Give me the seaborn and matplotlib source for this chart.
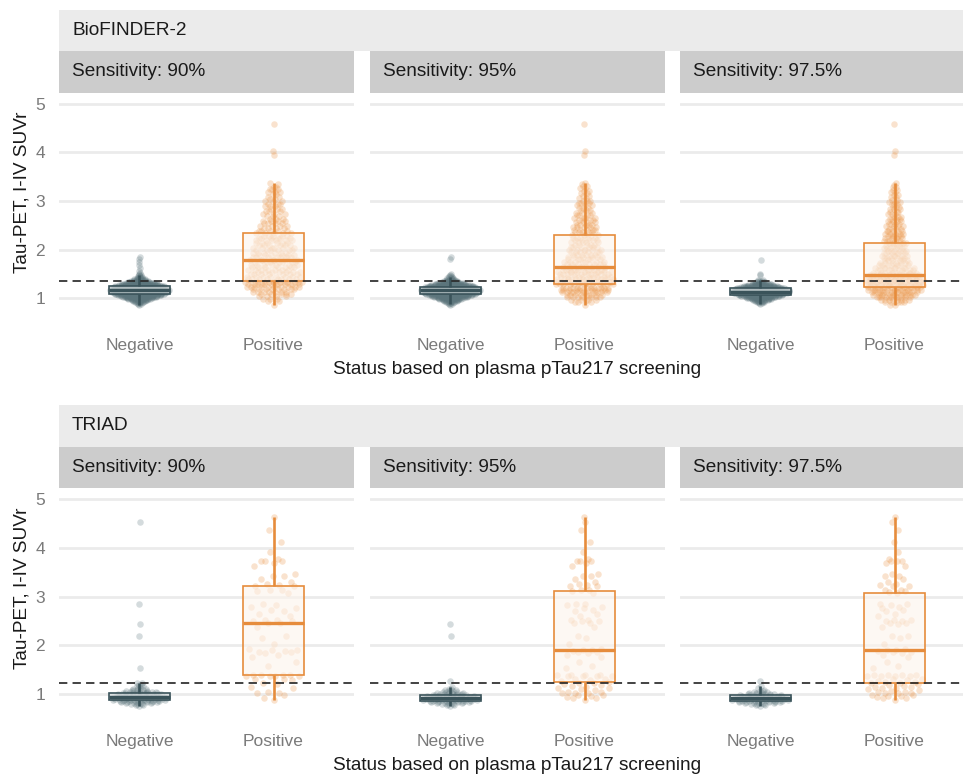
import numpy as np
import pandas as pd
import matplotlib
matplotlib.use("Agg")
import matplotlib.pyplot as plt
from matplotlib.patches import Rectangle
import seaborn as sns

# ---------------------------------------------------------------- data
cohorts = ["BioFINDER-2", "TRIAD"]
sensitivities = ["90%", "95%", "97.5%"]
status_levels = ["Negative", "Positive"]
y_ticks = [1, 2, 3, 4, 5]
tau_threshold = {"BioFINDER-2": 1.36, "TRIAD": 1.23}

# BioFINDER-2: tau-PET SUVr values (binned) and number of participants per value
bf_neg90_vals = [0.87, 0.89, 0.91, 0.93, 0.95, 0.97, 0.99, 1.01, 1.03, 1.05, 1.07, 1.09, 1.11,
                 1.13, 1.15, 1.17, 1.19, 1.21, 1.23, 1.25, 1.27, 1.29, 1.31, 1.33, 1.35, 1.37,
                 1.39, 1.41, 1.43, 1.45, 1.47, 1.49, 1.53, 1.57, 1.62, 1.68, 1.75, 1.80, 1.85]
bf_neg90_n = [1, 2, 3, 5, 7, 9, 12, 15, 18, 21, 24, 27, 29, 31, 32, 32, 32, 31, 29, 27, 24, 20,
              16, 12, 9, 7, 5, 4, 3, 2, 2, 1, 1, 1, 1, 1, 1, 1, 1]

bf_neg95_vals = [0.87, 0.89, 0.91, 0.93, 0.95, 0.97, 0.99, 1.01, 1.03, 1.05, 1.07, 1.09, 1.11,
                 1.13, 1.15, 1.17, 1.19, 1.21, 1.23, 1.25, 1.27, 1.29, 1.31, 1.33, 1.35, 1.37,
                 1.39, 1.41, 1.43, 1.45, 1.47, 1.49, 1.80, 1.85]
bf_neg95_n = [1, 2, 3, 5, 7, 9, 12, 14, 17, 20, 23, 26, 28, 30, 31, 31, 30, 29, 27, 24, 21, 17,
              13, 10, 7, 5, 4, 3, 2, 2, 1, 1, 1, 1]

bf_neg975_vals = [0.88, 0.90, 0.92, 0.94, 0.96, 0.98, 1.00, 1.02, 1.04, 1.06, 1.08, 1.10, 1.12,
                  1.14, 1.16, 1.18, 1.20, 1.22, 1.24, 1.26, 1.28, 1.30, 1.32, 1.34, 1.36, 1.37,
                  1.48, 1.49, 1.78]
bf_neg975_n = [1, 2, 4, 6, 8, 10, 13, 16, 19, 22, 25, 27, 29, 30, 30, 29, 27, 24, 21, 17, 13, 10,
               7, 5, 3, 2, 1, 1, 1]

bf_pos90_vals = [0.87, 0.94, 0.99, 1.04, 1.09, 1.14, 1.19, 1.24, 1.29, 1.34, 1.39, 1.44, 1.49,
                 1.54, 1.59, 1.64, 1.69, 1.74, 1.79, 1.84, 1.89, 1.94, 1.99, 2.04, 2.09, 2.14,
                 2.19, 2.24, 2.29, 2.34, 2.39, 2.44, 2.49, 2.54, 2.59, 2.64, 2.69, 2.74, 2.79,
                 2.84, 2.89, 2.94, 2.99, 3.04, 3.09, 3.14, 3.19, 3.24, 3.29, 3.34, 3.38, 3.95,
                 4.02, 4.59]
bf_pos90_n = [1, 2, 3, 4, 5, 7, 8, 10, 12, 13, 8, 8, 7, 7, 7, 7, 7, 7, 7, 7, 6, 6, 6, 6, 6, 6,
              6, 6, 5, 5, 5, 4, 4, 4, 4, 3, 3, 3, 3, 3, 3, 3, 3, 2, 2, 2, 3, 3, 2, 1, 1, 1, 1, 1]

bf_pos95_vals = [0.87, 0.92, 0.97, 1.02, 1.07, 1.12, 1.17, 1.22, 1.29, 1.34, 1.39, 1.44, 1.49,
                 1.54, 1.59, 1.65, 1.70, 1.75, 1.80, 1.85, 1.90, 1.95, 2.00, 2.05, 2.10, 2.15,
                 2.20, 2.25, 2.31, 2.36, 2.41, 2.46, 2.51, 2.56, 2.61, 2.66, 2.71, 2.76, 2.81,
                 2.86, 2.91, 2.96, 3.01, 3.06, 3.11, 3.16, 3.21, 3.26, 3.31, 3.34, 3.38, 3.95,
                 4.02, 4.59]
bf_pos95_n = [1, 3, 5, 7, 9, 11, 12, 13, 14, 13, 12, 11, 10, 10, 10, 9, 7, 7, 6, 6, 6, 6, 6, 6,
              5, 5, 5, 5, 5, 5, 5, 5, 5, 4, 4, 4, 4, 3, 3, 3, 3, 3, 3, 2, 2, 2, 2, 2, 2, 1, 1, 1,
              1, 1]

bf_pos975_vals = [0.87, 0.92, 0.97, 1.02, 1.07, 1.12, 1.17, 1.23, 1.28, 1.33, 1.38, 1.43, 1.48,
                  1.53, 1.58, 1.63, 1.68, 1.73, 1.78, 1.83, 1.88, 1.93, 1.98, 2.03, 2.08, 2.13,
                  2.18, 2.23, 2.28, 2.33, 2.38, 2.43, 2.48, 2.53, 2.58, 2.63, 2.68, 2.73, 2.78,
                  2.83, 2.88, 2.93, 2.98, 3.03, 3.08, 3.13, 3.18, 3.23, 3.28, 3.33, 3.38, 3.95,
                  4.02, 4.59]
bf_pos975_n = [2, 5, 8, 11, 13, 15, 15, 16, 18, 18, 17, 16, 16, 9, 8, 8, 7, 7, 6, 6, 6, 6, 6, 5,
               5, 6, 5, 5, 5, 5, 5, 4, 4, 4, 4, 4, 3, 3, 3, 3, 3, 3, 3, 2, 2, 2, 2, 2, 2, 1, 1, 1,
               1, 1]

# TRIAD: negatives (binned values and counts)
tr_neg90_vals = [0.76, 0.78, 0.80, 0.82, 0.84, 0.86, 0.88, 0.90, 0.92, 0.94, 0.96, 0.98, 1.00,
                 1.02, 1.04, 1.06, 1.08, 1.10, 1.13, 1.16, 1.19, 1.23, 1.54, 2.20, 2.44, 2.84,
                 4.53]
tr_neg90_n = [1, 2, 3, 4, 6, 8, 9, 9, 9, 9, 8, 8, 7, 7, 5, 4, 3, 2, 2, 2, 2, 2, 1, 1, 1, 1, 1]

tr_neg95_vals = [0.76, 0.78, 0.80, 0.82, 0.84, 0.86, 0.88, 0.90, 0.92, 0.94, 0.96, 0.98, 1.00,
                 1.02, 1.04, 1.06, 1.08, 1.11, 1.15, 1.28, 2.20, 2.44]
tr_neg95_n = [1, 2, 3, 4, 6, 8, 9, 9, 9, 8, 7, 6, 5, 4, 3, 2, 2, 2, 1, 1, 1, 1]

tr_neg975_vals = [0.76, 0.78, 0.80, 0.82, 0.84, 0.86, 0.88, 0.90, 0.92, 0.94, 0.96, 0.98, 1.00,
                  1.02, 1.04, 1.06, 1.09, 1.12, 1.16, 1.28]
tr_neg975_n = [1, 2, 3, 4, 6, 8, 8, 8, 8, 6, 6, 6, 5, 3, 2, 2, 1, 1, 1, 1]

# TRIAD: positives (individual participants)
tr_pos90 = [4.63, 4.37, 4.11, 3.92, 3.78, 3.73, 3.73, 3.72, 3.69, 3.62, 3.47, 3.43, 3.42, 3.37,
            3.29, 3.25, 3.23, 3.22, 3.21, 3.14, 3.13, 3.12, 3.07, 2.84, 2.82, 2.79, 2.77, 2.72,
            2.70, 2.64, 2.60, 2.53, 2.52, 2.51, 2.50, 2.47, 2.45, 2.38, 2.20, 2.15, 2.03, 1.92,
            1.91, 1.90, 1.88, 1.87, 1.86, 1.85, 1.81, 1.77, 1.67, 1.57, 1.40, 1.39, 1.39, 1.39,
            1.38, 1.38, 1.37, 1.37, 1.32, 1.31, 1.30, 1.23, 1.22, 1.14, 1.13, 1.04, 1.03, 1.02,
            0.99, 0.93, 0.89]
# participants that become screen-positive at the higher sensitivities
tr_added95 = [4.53, 2.84, 1.54, 1.28, 1.25, 1.24, 1.20, 1.18, 1.12, 1.10, 1.08, 1.05, 1.02,
              0.98, 0.96, 0.94, 0.92]
tr_added975 = [3.10, 2.44, 2.20, 1.25, 1.15, 1.06, 0.97]
tr_pos95 = tr_pos90 + tr_added95
tr_pos975 = tr_pos95 + tr_added975

one = [1] * 200
panel_data = {
    ("BioFINDER-2", "90%"): ((bf_neg90_vals, bf_neg90_n), (bf_pos90_vals, bf_pos90_n)),
    ("BioFINDER-2", "95%"): ((bf_neg95_vals, bf_neg95_n), (bf_pos95_vals, bf_pos95_n)),
    ("BioFINDER-2", "97.5%"): ((bf_neg975_vals, bf_neg975_n), (bf_pos975_vals, bf_pos975_n)),
    ("TRIAD", "90%"): ((tr_neg90_vals, tr_neg90_n), (tr_pos90, one[:len(tr_pos90)])),
    ("TRIAD", "95%"): ((tr_neg95_vals, tr_neg95_n), (tr_pos95, one[:len(tr_pos95)])),
    ("TRIAD", "97.5%"): ((tr_neg975_vals, tr_neg975_n), (tr_pos975, one[:len(tr_pos975)])),
}

# ---------------------------------------------------------------- style
status_colors = {"Negative": "#3A535A", "Positive": "#E68C3C"}
point_colors = {"Negative": "#5C757C", "Positive": "#EC9A50"}
point_alpha = {"Negative": 0.26, "Positive": 0.28}
strip_outer = "#EBEBEB"
strip_inner = "#CCCCCC"
grid_color = "#EBEBEB"
tick_color = "#7A7A7A"
text_color = "#1A1A1A"

sns.set_theme(style="white")
plt.rcParams["font.family"] = ["Liberation Sans", "DejaVu Sans"]

W, H = 963, 775
fig = plt.figure(figsize=(W / 100, H / 100), dpi=100)


def px_box(x0, y0, x1, y1):
    """Pixel box (top-left origin) -> figure fraction [left, bottom, width, height]."""
    return [x0 / W, 1 - y1 / H, (x1 - x0) / W, (y1 - y0) / H]


def van_der_corput(n, base=2):
    seq = np.empty(n)
    for i in range(n):
        k, f, r = i + 1, 1.0, 0.0
        while k > 0:
            f /= base
            r += f * (k % base)
            k //= base
        seq[i] = r
    return seq


def quasirandom_offsets(y, half_width=0.22):
    """Density-scaled low-discrepancy horizontal offsets (quasirandom layout)."""
    y = np.asarray(y, float)
    n = len(y)
    sd = y.std(ddof=1)
    q75, q25 = np.percentile(y, [75, 25])
    spread = min(sd, (q75 - q25) / 1.34) if q75 > q25 else sd
    bw = 0.9 * spread * n ** -0.2
    dens = np.exp(-0.5 * ((y[:, None] - y[None, :]) / bw) ** 2).sum(axis=1)
    dens /= dens.max()
    order = np.argsort(y, kind="stable")
    offs = np.empty(n)
    offs[order] = (2 * van_der_corput(n) - 1) * half_width * dens[order]
    return offs


def add_rect(x0, y0, x1, y1, color):
    fig.add_artist(Rectangle((x0 / W, 1 - y1 / H), (x1 - x0) / W, (y1 - y0) / H,
                             transform=fig.transFigure, facecolor=color,
                             edgecolor="none", zorder=0))


def tint(color, amount):
    rgb = matplotlib.colors.to_rgb(color)
    return tuple(1 - amount * (1 - c) for c in rgb)


panel_x = [(59, 354), (370, 665), (680, 975)]
sections = {
    # outer strip top, inner strip top, panel top, panel bottom
    "BioFINDER-2": (10, 51, 92.75, 333.6),
    "TRIAD": (405, 446.7, 488.0, 729.7),
}
ylim = (0.275, 5.225)

for cohort in cohorts:
    s_top, i_top, p_top, p_bot = sections[cohort]
    add_rect(59, s_top, W + 5, i_top, strip_outer)
    fig.text(72 / W, 1 - (s_top + i_top) / 2 / H, cohort, ha="left", va="center",
             fontsize=13.7, color=text_color)

    for j, sens in enumerate(sensitivities):
        x0, x1 = panel_x[j]
        add_rect(x0, i_top, x1, p_top, strip_inner)
        fig.text((x0 + 13) / W, 1 - (i_top + p_top) / 2 / H, f"Sensitivity: {sens}",
                 ha="left", va="center", fontsize=13.7, color=text_color)

        ax = fig.add_axes(px_box(x0, p_top, x1, p_bot))
        (neg_v, neg_n), (pos_v, pos_n) = panel_data[(cohort, sens)]
        neg = np.repeat(neg_v, neg_n)
        pos = np.repeat(pos_v, pos_n)
        df = pd.DataFrame({
            "status": ["Negative"] * len(neg) + ["Positive"] * len(pos),
            "suvr": np.concatenate([neg, pos]),
        })

        for k, status in enumerate(status_levels):
            sub = df[df["status"] == status]
            n_before = len(ax.patches)
            sns.boxplot(data=sub, x="status", y="suvr", order=status_levels,
                        color=status_colors[status], linecolor=status_colors[status],
                        fill=True, width=0.46, showcaps=False, showfliers=False, whis=1.5,
                        linewidth=1.2, medianprops={"linewidth": 2.4},
                        whiskerprops={"linewidth": 1.9}, ax=ax)
            for p in ax.patches[n_before:]:
                p.set_facecolor((*tint(status_colors[status], 0.10), 0.6))
                p.set_edgecolor(status_colors[status])
                p.set_zorder(2.5)
        for ln in ax.lines:
            ln.set_zorder(3)

        for k, status in enumerate(status_levels):
            vals = df.loc[df["status"] == status, "suvr"].to_numpy()
            xs = k + quasirandom_offsets(vals)
            sns.scatterplot(x=xs, y=vals, ax=ax, color=point_colors[status], s=22,
                            alpha=point_alpha[status], linewidth=0, legend=False, zorder=2)

        ax.axhline(tau_threshold[cohort], color="#2B2B2B", lw=1.25,
                   ls=(0, (4.8, 3.0)), zorder=4)

        ax.set_xlim(-0.6, 1.6)
        ax.set_ylim(*ylim)
        ax.set_xticks([0, 1])
        ax.set_xticklabels(status_levels)
        ax.set_yticks(y_ticks)
        if j == 0:
            ax.set_yticklabels([str(t) for t in y_ticks])
        else:
            ax.set_yticklabels([])
        ax.set_xlabel("")
        ax.set_ylabel("")
        ax.set_facecolor("white")
        ax.yaxis.grid(True, color=grid_color, lw=2.0)
        ax.xaxis.grid(False)
        ax.set_axisbelow(True)
        for sp in ax.spines.values():
            sp.set_visible(False)
        ax.tick_params(axis="both", length=0, labelsize=12.5, labelcolor=tick_color)
        ax.tick_params(axis="y", pad=10)
        ax.tick_params(axis="x", pad=3)

    # axis titles
    fig.text(517 / W, 1 - (p_bot + 35.5) / H, "Status based on plasma pTau217 screening",
             ha="center", va="center", fontsize=13.7, color=text_color)
    fig.text(22 / W, 1 - (i_top + p_bot) / 2 / H, "Tau-PET, I-IV SUVr", rotation=90,
             ha="center", va="center", fontsize=13.7, color=text_color)

fig.savefig("out.png", dpi=100, facecolor="white")
